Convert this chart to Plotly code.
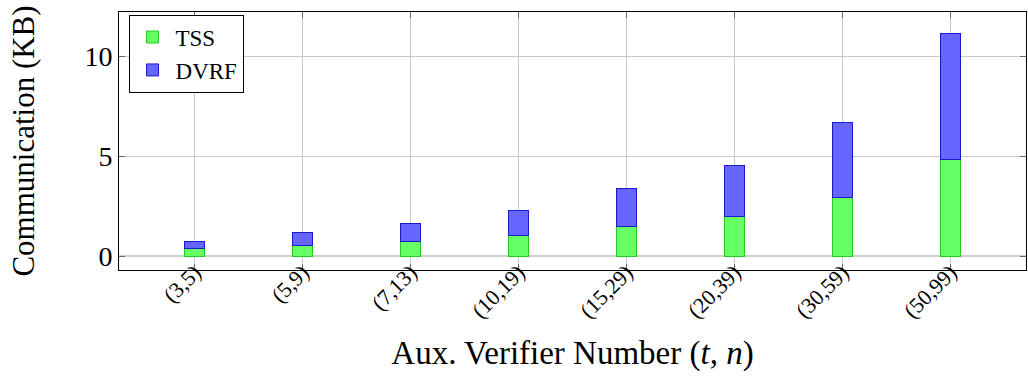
import plotly.graph_objects as go

# (t, n) settings of the auxiliary verifiers
categories = ["(3,5)", "(5,9)", "(7,13)", "(10,19)", "(15,29)", "(20,39)", "(30,59)", "(50,99)"]

# communication cost in KB, stacked per setting
tss = [0.37, 0.55, 0.73, 1.01, 1.50, 1.98, 2.93, 4.85]
dvrf = [0.36, 0.63, 0.90, 1.27, 1.88, 2.54, 3.77, 6.30]

x_idx = list(range(len(categories)))

FONT = "Liberation Serif, Times New Roman, serif"

fig = go.Figure()
fig.add_trace(go.Bar(
    x=x_idx, y=tss, name="TSS", width=0.18,
    marker=dict(color="#66ff66", line=dict(color="#22cc22", width=1)),
))
fig.add_trace(go.Bar(
    x=x_idx, y=dvrf, name="DVRF", width=0.18,
    marker=dict(color="#6666ff", line=dict(color="#1a1acc", width=1)),
))

fig.update_layout(
    barmode="stack",
    width=1028, height=385,
    margin=dict(l=119, r=2, t=12, b=115),
    paper_bgcolor="white", plot_bgcolor="white",
    font=dict(family=FONT, color="black"),
    showlegend=True,
    legend=dict(
        x=0.0105, y=0.99, xanchor="left", yanchor="top",
        bordercolor="black", borderwidth=1, bgcolor="white",
        font=dict(family=FONT, size=23, color="black"),
        traceorder="normal",
        itemwidth=36,
    ),
    xaxis=dict(
        range=[-0.7, 7.7],
        tickmode="array", tickvals=x_idx, ticktext=categories,
        tickangle=-45,
        tickfont=dict(family=FONT, size=22, color="black"),
        showgrid=True, gridcolor="#c8c8c8", gridwidth=1,
        ticks="inside", ticklen=6, tickcolor="#666666",
        showline=True, linecolor="black", linewidth=1, mirror="ticks",
        zeroline=False,
        ticklabelstandoff=-20,
        title=dict(text="Aux. Verifier Number (<i>t</i>, <i>n</i>)",
                   font=dict(family=FONT, size=33, color="black"), standoff=18),
    ),
    yaxis=dict(
        range=[-0.7, 12.2],
        tickmode="array", tickvals=[0, 5, 10], ticktext=["0", "5", "10"],
        tickfont=dict(family=FONT, size=28, color="black"),
        showgrid=True, gridcolor="#c8c8c8", gridwidth=1,
        ticks="inside", ticklen=6, tickcolor="#666666",
        showline=True, linecolor="black", linewidth=1, mirror="ticks",
        zeroline=True, zerolinecolor="#d0d0d0", zerolinewidth=2,
        title=dict(text="Communication (KB)",
                   font=dict(family=FONT, size=31, color="black"), standoff=40),
    ),
)

fig.write_html("out.html")
